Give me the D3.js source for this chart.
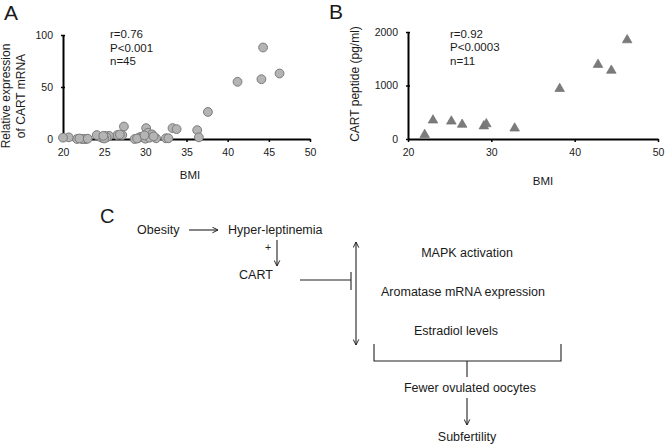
<!DOCTYPE html>
<html><head><meta charset="utf-8">
<script src="https://cdn.jsdelivr.net/npm/d3@7"></script>
<style>
body{margin:0;background:#fff;}
svg{display:block;font-family:"Liberation Sans",Arial,sans-serif;}
</style></head>
<body><svg id="c" width="667" height="446"></svg>
<script>
// Panel A data
const bmiA = [44.3,41.2,44.1,46.3,37.6,36.3,36.5,33.3,33.8,32.5,32.8,27.4,30.1,30.3,30.8,31.3,29.8,29.6,29.4,29.1,28.7,26.6,27.2,25.6,25.1,24.8,24.5,24.1,22.8,22.5,22.3,21.7,20.7,20.0,22.0,23.0,25.3,25.0,24.9,29.0,30.0,30.5,29.9,31.0,26.9];
const mrnaA = [88,55,57.5,63,26,8.5,1.6,10.5,9.5,0.7,0.7,12,10.5,6,4.5,0.7,1.3,2,2,0.7,0,3.8,3.8,3,3,1,2,3.8,0,0,0,0,1.6,1.3,0.5,0.3,1.5,0.5,3,0.5,0.3,1.2,3.5,2.5,4.3];
const xTicksA = [20,25,30,35,40,45,50];
const yTicksA = [0,50,100];
const statsA = ["r=0.76","P<0.001","n=45"];
// Panel B data
const bmiB = [22.0,23.0,25.2,26.5,29.1,29.4,32.8,38.2,42.8,44.4,46.3];
const peptideB = [80,350,330,270,240,280,200,940,1390,1280,1850];
const xTicksB = [20,30,40,50];
const yTicksB = [0,1000,2000];
const statsB = ["r=0.92","P<0.0003","n=11"];

const svg = d3.select("#c");
const txt = "#1a1a1a";
const fmt = d3.format("d");

function styleAxis(a){
  a.select(".domain").attr("stroke","#000").attr("stroke-width",2);
  a.selectAll(".tick line").attr("stroke","#000").attr("stroke-width",1.5);
  a.selectAll("text").attr("font-size",10.5).attr("fill",txt).attr("font-family","Liberation Sans, Arial, sans-serif");
}

// ---------- Panel A ----------
const xA = d3.scaleLinear().domain([20,50]).range([63,310]);
const yA = d3.scaleLinear().domain([0,100]).range([139,35]);
const gA = svg.append("g");
const axA = gA.append("g").attr("transform","translate(0,139)")
  .call(d3.axisBottom(xA).tickValues(xTicksA).tickFormat(fmt).tickSize(3).tickSizeOuter(0).tickPadding(7));
const ayA = gA.append("g").attr("transform",`translate(${xA(20)},0)`)
  .call(d3.axisLeft(yA).tickValues(yTicksA).tickFormat(fmt).tickSize(3).tickSizeOuter(0).tickPadding(7));
ayA.selectAll(".tick line").attr("x2",-2).attr("x1",2);
styleAxis(axA); styleAxis(ayA);
gA.selectAll("circle").data(bmiA.map((b,i)=>[b,mrnaA[i]])).enter().append("circle")
  .attr("cx",d=>xA(d[0])).attr("cy",d=>yA(d[1])).attr("r",4.4)
  .attr("fill","#b4b4b4").attr("stroke","#7a7a7a").attr("stroke-width",1);
gA.selectAll(".st").data(statsA).enter().append("text")
  .attr("x",110).attr("y",(d,i)=>38+i*13.5).attr("font-size",11.5).attr("fill",txt).text(d=>d);
gA.append("text").attr("x",190).attr("y",179).attr("text-anchor","middle").attr("font-size",11.5).attr("fill",txt).text("BMI");
const ytA = gA.append("text").attr("transform","translate(10,96) rotate(-90)").attr("text-anchor","middle").attr("font-size",12).attr("fill",txt);
ytA.append("tspan").attr("x",0).attr("y",0).text("Relative expression");
ytA.append("tspan").attr("x",0).attr("y",14.5).text("of CART mRNA");
svg.append("text").attr("x",4).attr("y",20).attr("font-size",21).attr("fill",txt).text("A");

// ---------- Panel B ----------
const xB = d3.scaleLinear().domain([20,50]).range([408,658]);
const yB = d3.scaleLinear().domain([0,2000]).range([139,32]);
const gB = svg.append("g");
const axB = gB.append("g").attr("transform","translate(0,139)")
  .call(d3.axisBottom(xB).tickValues(xTicksB).tickFormat(fmt).tickSize(3).tickSizeOuter(0).tickPadding(7));
const ayB = gB.append("g").attr("transform",`translate(${xB(20)},0)`)
  .call(d3.axisLeft(yB).tickValues(yTicksB).tickFormat(fmt).tickSize(3).tickSizeOuter(0).tickPadding(7));
ayB.selectAll(".tick line").attr("x2",-2).attr("x1",2);
styleAxis(axB); styleAxis(ayB);
const tri = d3.symbol().type(d3.symbolTriangle).size(40);
gB.selectAll("path.tri").data(bmiB.map((b,i)=>[b,peptideB[i]])).enter().append("path")
  .attr("class","tri").attr("d",tri)
  .attr("transform",d=>`translate(${xB(d[0])},${yB(d[1])})`)
  .attr("fill","#7b7b7b").attr("stroke","#6a6a6a").attr("stroke-width",0.6);
gB.selectAll(".st").data(statsB).enter().append("text")
  .attr("x",450).attr("y",(d,i)=>37.5+i*13.5).attr("font-size",11.5).attr("fill",txt).text(d=>d);
gB.append("text").attr("x",543).attr("y",185).attr("text-anchor","middle").attr("font-size",11.5).attr("fill",txt).text("BMI");
gB.append("text").attr("transform","translate(359,84) rotate(-90)").attr("text-anchor","middle").attr("font-size",12).attr("fill",txt).text("CART peptide (pg/ml)");
svg.append("text").attr("x",329).attr("y",19).attr("font-size",21).attr("fill",txt).text("B");

// ---------- Panel C ----------
const defs = svg.append("defs");
defs.append("marker").attr("id","ah").attr("viewBox","0 0 10 10").attr("refX",9).attr("refY",5)
  .attr("markerWidth",7).attr("markerHeight",7).attr("markerUnits","userSpaceOnUse").attr("orient","auto-start-reverse")
  .append("path").attr("d","M1,1 L9,5 L1,9").attr("fill","none").attr("stroke","#222").attr("stroke-width",1.4);
const gC = svg.append("g").attr("stroke","#222").attr("stroke-width",1.1);
svg.append("text").attr("x",100).attr("y",223).attr("font-size",20).attr("fill",txt).text("C");
const labels = [
  ["Obesity",137,234,"start"],
  ["Hyper-leptinemia",228,234,"start"],
  ["CART",256,279,"middle"],
  ["MAPK activation",467,257,"middle"],
  ["Aromatase mRNA expression",463,296,"middle"],
  ["Estradiol levels",456,335,"middle"],
  ["Fewer ovulated oocytes",470,392,"middle"],
  ["Subfertility",467,441,"middle"]
];
svg.selectAll(".lab").data(labels).enter().append("text").attr("class","lab")
  .attr("x",d=>d[1]).attr("y",d=>d[2]).attr("text-anchor",d=>d[3])
  .attr("font-size",12.5).attr("fill",txt).text(d=>d[0]);
svg.append("text").attr("x",268).attr("y",251).attr("text-anchor","middle").attr("font-size",10.5).attr("fill","#222").text("+");
gC.append("line").attr("x1",189).attr("y1",230).attr("x2",218).attr("y2",230).attr("marker-end","url(#ah)");
gC.append("line").attr("x1",277).attr("y1",240).attr("x2",277).attr("y2",266).attr("marker-end","url(#ah)");
gC.append("line").attr("x1",300).attr("y1",280).attr("x2",351).attr("y2",280);
gC.append("line").attr("x1",351).attr("y1",272).attr("x2",351).attr("y2",290);
gC.append("line").attr("x1",356).attr("y1",242).attr("x2",356).attr("y2",345).attr("marker-start","url(#ah)").attr("marker-end","url(#ah)");
gC.append("path").attr("fill","none").attr("d","M374,344 L374,361 L561,361 L561,344");
gC.append("line").attr("x1",467).attr("y1",361).attr("x2",467).attr("y2",377);
gC.append("line").attr("x1",467).attr("y1",398).attr("x2",467).attr("y2",425).attr("marker-end","url(#ah)");
</script></body></html>
